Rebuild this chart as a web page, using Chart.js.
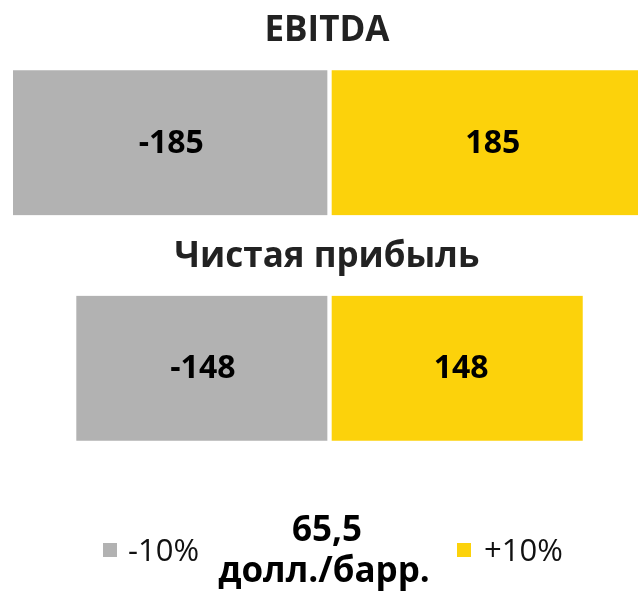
<!DOCTYPE html>
<html>
<head>
<meta charset="utf-8">
<script src="https://cdn.jsdelivr.net/npm/chart.js@4"></script>
<style>
    html, body { margin: 0; padding: 0; background: #fff; }
    #wrap { width: 638px; height: 593px; }
</style>
</head>
<body>
<div id="wrap"><canvas id="myChart" width="638" height="593"></canvas></div>
<script>
// chart values
const categories = ['EBITDA', 'Чистая прибыль'];
const seriesLabels = ['-10%', '+10%'];
const minusValues = [-185, -148];
const plusValues = [185, 148];
const priceLabel = ['65,5', 'долл./барр.'];

const GREY = '#b2b2b2';
const YELLOW = '#fcd20b';
const FONT = '"Open Sans", "DejaVu Sans", sans-serif';

// titles above each bar + value labels inside
const barText = {
    id: 'barText',
    afterDatasetsDraw(chart) {
        const ctx = chart.ctx;
        ctx.save();
        ctx.textAlign = 'center';

        ctx.textBaseline = 'middle';
        chart.data.datasets.forEach((ds, i) => {
            chart.getDatasetMeta(i).data.forEach((bar, j) => {
                let cx = (bar.x + bar.base) / 2;
                if (ds.data[j] > 0) cx += 5;
                ctx.font = 'bold 32px ' + FONT;
                ctx.fillStyle = '#000';
                ctx.fillText(String(ds.data[j]), cx, bar.y + 1);
            });
        });

        // category titles
        ctx.textBaseline = 'alphabetic';
        chart.getDatasetMeta(0).data.forEach((bar, j) => {
            ctx.font = 'bold 35px ' + FONT;
            ctx.fillStyle = '#222';
            ctx.fillText(categories[j], 327, bar.y - bar.height / 2 - 29);
        });
        ctx.restore();
    }
};

// legend with the price in the middle
const bottomLegend = {
    id: 'bottomLegend',
    afterDraw(chart) {
        const ctx = chart.ctx;
        ctx.save();
        ctx.textBaseline = 'alphabetic';

        ctx.fillStyle = GREY;
        ctx.fillRect(103, 543, 14, 14);
        ctx.fillStyle = YELLOW;
        ctx.fillRect(457, 543, 14, 14);

        ctx.font = '31px ' + FONT;
        ctx.fillStyle = '#111';
        ctx.textAlign = 'left';
        ctx.fillText(seriesLabels[0], 128, 561);
        ctx.fillText(seriesLabels[1], 484, 561);

        ctx.font = 'bold 35px ' + FONT;
        ctx.fillStyle = '#000';
        ctx.textAlign = 'center';
        ctx.fillText(priceLabel[0], 327, 541);
        ctx.fillText(priceLabel[1], 324, 582);
        ctx.restore();
    }
};

const ctx = document.getElementById('myChart');
const myChart = new Chart(ctx, {
    type: 'bar',
    data: {
        labels: categories,
        datasets: [{
            label: seriesLabels[0],
            data: minusValues,
            backgroundColor: GREY,
            borderColor: '#fff',
            borderWidth: { right: 2.5 },
            borderSkipped: false,
            barThickness: 145
        }, {
            label: seriesLabels[1],
            data: plusValues,
            backgroundColor: YELLOW,
            borderColor: '#fff',
            borderWidth: { left: 2.5 },
            borderSkipped: false,
            barThickness: 145
        }]
    },
    options: {
        indexAxis: 'y',
        responsive: false,
        animation: false,
        layout: {
            padding: { top: 30, bottom: 112, left: 0, right: 0 }
        },
        scales: {
            x: {
                display: false,
                stacked: true,
                min: -192.6,
                max: 180.3
            },
            y: {
                display: false,
                stacked: true
            }
        },
        plugins: {
            legend: { display: false },
            tooltip: { enabled: false }
        }
    },
    plugins: [barText, bottomLegend]
});
</script>
</body>
</html>
